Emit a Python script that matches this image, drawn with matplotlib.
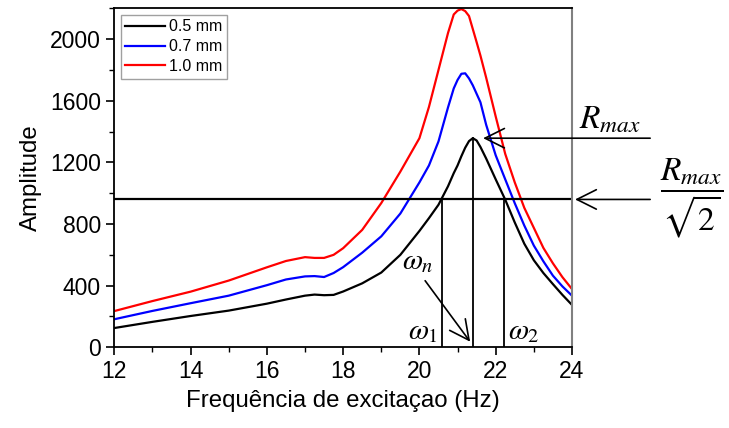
import numpy as np
import matplotlib
matplotlib.use("Agg")
import matplotlib.pyplot as plt

plt.rcParams['font.family'] = ['Liberation Sans', 'DejaVu Sans']
plt.rcParams['mathtext.fontset'] = 'stix'

# frequency grid (Hz)
freq = [12, 13, 14, 15, 16, 16.5, 17, 17.25, 17.5, 17.75, 18, 18.5, 19, 19.5,
        20, 20.25, 20.5, 20.75, 20.9, 21, 21.1, 21.2, 21.3, 21.4, 21.5, 21.6,
        21.75, 22, 22.25, 22.5, 22.75, 23, 23.25, 23.5, 23.75, 24]

# amplitude for each thickness
amp_05 = [125, 165, 203, 238, 283, 310, 335, 342, 338, 340, 362, 415, 485, 600,
          755, 838, 925, 1045, 1130, 1180, 1240, 1295, 1338, 1357, 1342, 1300,
          1225, 1090, 958, 810, 672, 565, 482, 410, 340, 275]
amp_07 = [182, 236, 286, 335, 403, 440, 460, 462, 456, 482, 520, 614, 720, 868,
          1070, 1180, 1336, 1557, 1680, 1735, 1775, 1778, 1745, 1700, 1645, 1590,
          1444, 1246, 1090, 935, 790, 660, 558, 465, 395, 335]
amp_10 = [235, 300, 361, 433, 519, 560, 585, 580, 580, 600, 643, 762, 936, 1140,
          1357, 1560, 1800, 2040, 2160, 2185, 2195, 2182, 2150, 2065, 1980, 1893,
          1750, 1498, 1255, 1070, 905, 775, 645, 545, 455, 378]
labels = ['0.5 mm', '0.7 mm', '1.0 mm']

# half-power analysis of the 0.5 mm curve
r_max = 1357
w_n = 21.40
w_1 = 20.59
w_2 = 22.22
half = r_max / np.sqrt(2)

fig = plt.figure(figsize=(7.29, 4.28), dpi=100)
ax = fig.add_axes([0.1568, 0.1886, 0.6278, 0.792])

ax.plot(freq, amp_05, color='black', lw=1.6, label=labels[0])
ax.plot(freq, amp_07, color='blue', lw=1.6, label=labels[1])
ax.plot(freq, amp_10, color='red', lw=1.6, label=labels[2])

# reference lines
ax.plot([12, 24], [half, half], color='black', lw=1.6)
ax.plot([w_1, w_1], [0, half], color='black', lw=1.3)
ax.plot([w_2, w_2], [0, half], color='black', lw=1.3)
ax.plot([w_n, w_n], [0, r_max], color='black', lw=1.3)

arrow = dict(arrowstyle='->,head_length=0.7,head_width=0.35', color='black',
             lw=1.2, mutation_scale=20, shrinkA=0, shrinkB=0)
ax.annotate('', xy=(w_n + 0.27, r_max), xytext=(26.05, r_max),
            arrowprops=arrow, annotation_clip=False)
ax.annotate('', xy=(24.08, half), xytext=(26.05, half),
            arrowprops=arrow, annotation_clip=False)
ax.annotate('', xy=(w_n - 0.07, 36), xytext=(20.15, 432),
            arrowprops=arrow, annotation_clip=False)

ax.text(25.0, 1476, r'$R_{max}$', fontsize=24, ha='center', va='center')
ax.text(27.15, half, r'$\dfrac{R_{max}}{\sqrt{2}}$', fontsize=24,
        ha='center', va='center')
ax.text(19.95, 560, r'$\omega_n$', fontsize=21, ha='center', va='center')
ax.text(20.1, 105, r'$\omega_1$', fontsize=21, ha='center', va='center')
ax.text(22.73, 105, r'$\omega_2$', fontsize=21, ha='center', va='center')

ax.set_xlim(12, 24)
ax.set_ylim(0, 2200)
ax.set_xticks(np.arange(12, 25, 2))
ax.set_xticks(np.arange(12, 25, 1), minor=True)
ax.set_yticks(np.arange(0, 2001, 400))
ax.set_yticks(np.arange(0, 2201, 200), minor=True)
ax.tick_params(which='major', length=6, width=1.2, labelsize=16.5, direction='out')
ax.tick_params(which='minor', length=3.5, width=1.0, direction='out')

for side in ['left', 'bottom', 'top']:
    ax.spines[side].set_linewidth(1.3)
ax.spines['right'].set_color('#808080')
ax.spines['right'].set_linewidth(1.5)

ax.set_xlabel('Frequência de excitaçao (Hz)', fontsize=17.3, labelpad=5)
ax.set_ylabel('Amplitude', fontsize=17.3, labelpad=6)

leg = ax.legend(loc='upper left', fontsize=11.5, handlelength=2.5,
                handletextpad=0.2, labelspacing=0.3, borderpad=0.3,
                fancybox=False, framealpha=1, borderaxespad=0.4)
leg.get_frame().set_edgecolor('#a0a0a0')
leg.get_frame().set_linewidth(1.0)

fig.savefig('out.png', dpi=100)
